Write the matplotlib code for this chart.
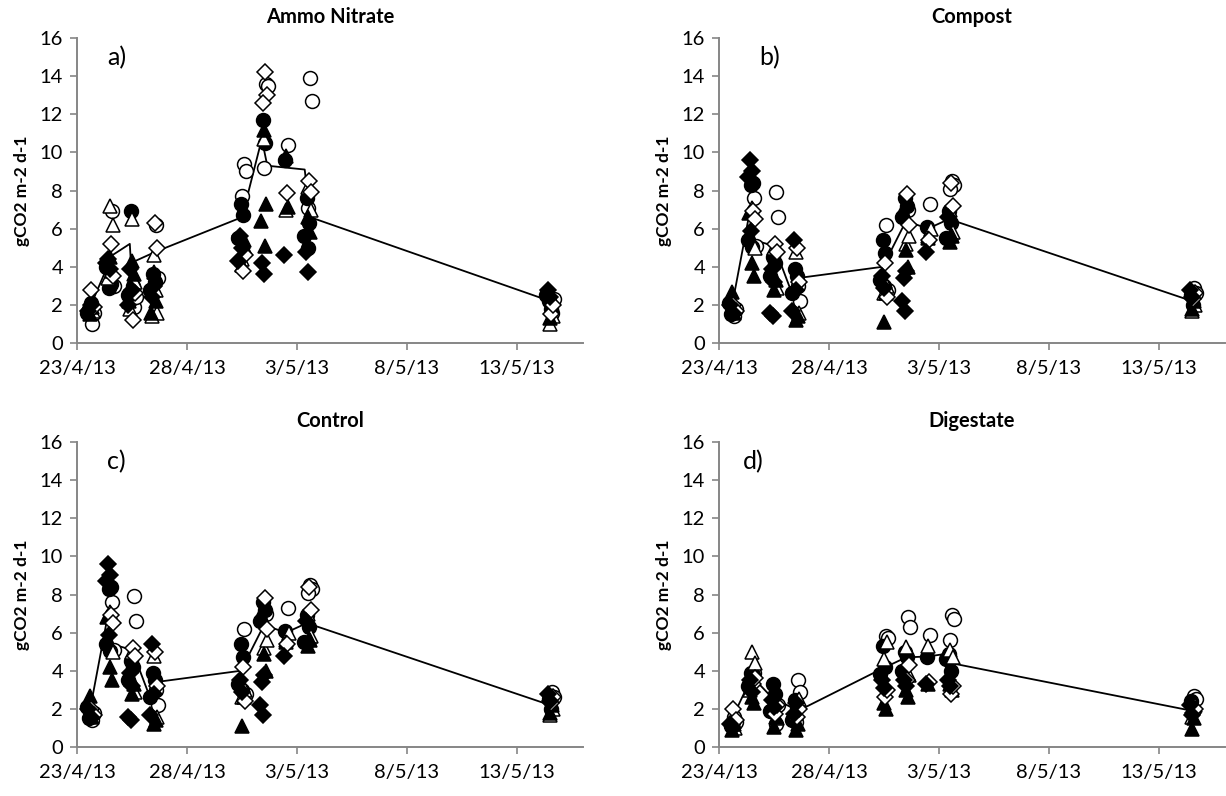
import matplotlib
matplotlib.use("Agg")
import matplotlib.pyplot as plt

plt.rcParams['font.family'] = ['Lato', 'DejaVu Sans']

# ---------------- data ----------------
date_ticks = [0, 5, 10, 15, 20]            # days since 23/4/13
date_labels = ["23/4/13", "28/4/13", "3/5/13", "8/5/13", "13/5/13"]
cluster_days = [0.6, 1.5, 2.5, 3.5, 7.5, 8.5, 9.5, 10.5, 21.5]
panel_titles = ["Ammo Nitrate", "Compost", "Control", "Digestate"]
panel_letters = ["a)", "b)", "c)", "d)"]
y_label = "gCO2 m-2 d-1"

# Ammo Nitrate: six chamber series, values per sampling cluster
ammo_open_circle = [[1.0, 1.6], [6.9, 3.0], [1.9, 2.4], [6.2, 3.4], [9.4, 9.0, 7.7],
                    [13.6, 13.5, 9.2], [10.4], [13.9, 12.7, 7.1], [1.6, 2.3]]
ammo_filled_circle = [[1.8, 2.1, 1.6], [2.9, 3.1, 4.0], [6.9, 3.0, 2.5], [3.6, 3.2, 2.8],
                      [7.3, 6.7, 5.5], [11.7, 10.5], [9.6], [7.6, 6.3, 5.6, 5.0], [2.2, 1.8, 2.5]]
ammo_open_triangle = [[2.2, 1.7], [7.2, 6.2, 3.4], [6.5, 3.2, 1.8], [4.6, 1.6, 1.4, 2.8],
                      [4.4, 5.0], [10.7], [7.0], [8.2, 7.0], [1.0, 1.4]]
ammo_filled_triangle = [[1.5, 1.9], [4.5, 3.8], [4.3, 3.6, 2.2], [3.7, 2.2, 1.6], [4.1, 5.4],
                        [11.2, 7.3, 6.4, 5.1], [9.8, 7.15], [6.6, 5.8], [1.3, 1.9]]
ammo_open_diamond = [[2.8, 1.9], [5.2, 3.5], [1.2, 2.6], [6.3, 5.0], [3.8, 4.6],
                     [14.2, 13.0, 12.6], [7.85], [8.5, 7.9], [1.5, 2.0]]
ammo_filled_diamond = [[1.7, 2.0], [4.4, 3.9, 4.2], [3.9, 2.8, 2.0], [2.4, 3.0],
                       [5.6, 5.0, 4.3], [4.2, 3.6], [4.6], [4.8, 3.75], [2.8, 2.4]]
ammo_mean_days = [0.6, 1.6, 2.4, 2.45, 3.6, 7.5, 8.4, 8.65, 10.35, 10.6, 21.5]
ammo_mean = [1.9, 4.6, 5.2, 4.2, 4.8, 6.6, 10.7, 9.3, 9.1, 6.6, 2.2]

# Compost
compost_open_circle = [[1.4, 1.8], [7.6, 5.1], [7.9, 6.6], [3.0, 2.2], [6.2, 2.8],
                       [7.0], [7.3], [8.5, 8.3, 8.1], [2.9, 2.6]]
compost_filled_circle = [[1.5, 1.8, 2.1], [8.3, 8.4, 5.4, 5.05], [4.5, 4.2, 3.5], [3.9, 3.5, 2.6],
                         [5.4, 4.7, 3.3, 3.0], [7.6, 7.2, 6.6], [6.1], [6.9, 6.3, 5.5], [2.5, 2.0]]
compost_open_triangle = [[2.2, 1.9], [7.1, 5.0], [5.0, 2.9], [4.8, 1.6], [2.6, 3.0],
                         [5.2, 5.6], [5.6, 6.0], [7.0, 5.8], [1.7, 2.0]]
compost_filled_triangle = [[2.7, 1.6], [4.2, 3.5, 6.8], [2.8, 3.3], [1.2, 1.4], [1.1, 2.6],
                           [4.9, 4.0, 7.0], [5.5], [5.3, 5.6], [1.8, 2.2]]
compost_open_diamond = [[2.0, 1.7], [6.9, 6.5], [5.2, 4.8], [5.0, 3.2], [4.2, 2.4],
                        [7.8, 6.2], [5.4], [8.4, 7.2], [2.3, 2.6]]
compost_filled_diamond = [[2.0, 1.6], [9.6, 9.0, 8.7, 5.9], [3.9, 3.2, 1.6, 1.4], [5.4, 2.8, 1.7],
                          [3.5, 2.9], [3.4, 3.8, 2.2, 1.7], [4.8], [6.6, 5.4], [2.8, 2.4]]
compost_mean_days = [0.6, 1.4, 1.55, 2.5, 3.45, 3.55, 7.45, 8.5, 9.5, 10.45, 21.5]
compost_mean = [2.0, 6.9, 5.4, 5.1, 2.2, 3.4, 4.0, 6.4, 6.0, 6.5, 2.2]

# Control (identical readings to the Compost panel in the source figure)
control_open_circle = [list(v) for v in compost_open_circle]
control_filled_circle = [list(v) for v in compost_filled_circle]
control_open_triangle = [list(v) for v in compost_open_triangle]
control_filled_triangle = [list(v) for v in compost_filled_triangle]
control_open_diamond = [list(v) for v in compost_open_diamond]
control_filled_diamond = [list(v) for v in compost_filled_diamond]
control_mean_days = list(compost_mean_days)
control_mean = list(compost_mean)

# Digestate
dig_open_circle = [[1.6, 1.3], [3.9], [1.2, 2.2], [3.5, 2.9, 1.3], [5.8, 5.7],
                   [6.8, 6.3], [5.85], [6.9, 6.7, 5.6], [2.7, 2.5]]
dig_filled_circle = [[1.1, 1.3], [3.9, 3.8, 3.2], [3.3, 2.8, 1.9], [2.45, 2.1, 1.4],
                     [5.3, 4.2, 3.85], [5.0, 4.7, 4.0], [4.7], [4.9, 4.0, 4.6], [2.4, 1.9]]
dig_open_triangle = [[1.4, 1.0], [5.0, 4.4, 3.0], [2.4, 1.5], [1.8, 2.5], [4.6, 5.5],
                     [5.25, 3.8], [5.3], [5.1, 4.7], [1.6, 2.2]]
dig_filled_triangle = [[0.9, 1.2], [2.6, 2.3], [1.05, 1.6], [0.9, 1.2], [2.3, 2.0],
                       [3.0, 2.6], [3.3], [3.3, 3.0], [0.95, 1.5]]
dig_open_diamond = [[2.0, 1.4], [3.3, 3.6], [1.75, 2.2], [1.6, 2.0], [2.6, 3.0],
                    [3.5, 4.3], [3.4], [2.8, 3.2], [1.8, 2.0]]
dig_filled_diamond = [[1.2, 1.0], [3.5, 2.9], [2.45, 2.1], [1.75, 2.3], [3.5, 3.1],
                      [3.5, 3.2], [3.3], [3.5, 3.2], [2.2, 1.7]]
dig_mean_days = [0.6, 1.5, 2.4, 3.6, 7.4, 8.5, 9.5, 10.4, 10.55, 21.5]
dig_mean = [1.5, 3.7, 2.6, 1.9, 4.1, 4.7, 4.75, 4.9, 4.4, 1.9]

panels = [
    ([ammo_open_circle, ammo_filled_circle, ammo_open_triangle, ammo_filled_triangle,
      ammo_open_diamond, ammo_filled_diamond], ammo_mean_days, ammo_mean),
    ([compost_open_circle, compost_filled_circle, compost_open_triangle, compost_filled_triangle,
      compost_open_diamond, compost_filled_diamond], compost_mean_days, compost_mean),
    ([control_open_circle, control_filled_circle, control_open_triangle, control_filled_triangle,
      control_open_diamond, control_filled_diamond], control_mean_days, control_mean),
    ([dig_open_circle, dig_filled_circle, dig_open_triangle, dig_filled_triangle,
      dig_open_diamond, dig_filled_diamond], dig_mean_days, dig_mean),
]

# ---------------- styling ----------------
series_style = [("o", "white", 10), ("o", "black", 10), ("^", "white", 10.5),
                ("^", "black", 10.5), ("D", "white", 8.5), ("D", "black", 8.5)]
series_shift = [0.08, -0.06, 0.02, -0.02, 0.05, -0.08]
point_shift = [0.0, 0.1, -0.1, 0.05]

axes_rects = [
    [77 / 1226, 1 - 343 / 796, 506 / 1226, 305 / 796],
    [719 / 1226, 1 - 343 / 796, 506 / 1226, 305 / 796],
    [77 / 1226, 1 - 747 / 796, 506 / 1226, 305 / 796],
    [719 / 1226, 1 - 747 / 796, 506 / 1226, 305 / 796],
]
letter_pos = [(0.06, 0.935), (0.08, 0.935), (0.06, 0.935), (0.048, 0.935)]
ylabel_x = [30, 672, 30, 672]

fig = plt.figure(figsize=(12.26, 7.96), dpi=100)
grey = "#868686"

for k, (series_list, mdays, mvals) in enumerate(panels):
    ax = fig.add_axes(axes_rects[k])
    ax.plot(mdays, mvals, color="black", lw=1.3, zorder=2)
    for s, vals in enumerate(series_list):
        marker, face, ms = series_style[s]
        for c, day in enumerate(cluster_days):
            for j, v in enumerate(vals[c]):
                x = day + series_shift[s] + point_shift[j % len(point_shift)]
                ax.plot([x], [v], linestyle="none", marker=marker, markersize=ms,
                        markerfacecolor=face, markeredgecolor="black",
                        markeredgewidth=1.1, zorder=3 + s * 0.1)
    ax.set_xlim(0, 23)
    ax.set_ylim(0, 16)
    ax.set_yticks(range(0, 17, 2))
    ax.set_xticks(date_ticks)
    ax.set_xticklabels(date_labels)
    for side in ("top", "right"):
        ax.spines[side].set_visible(False)
    for side in ("left", "bottom"):
        ax.spines[side].set_color(grey)
        ax.spines[side].set_linewidth(1.4)
    ax.tick_params(axis="both", direction="out", length=5, width=1.2, color=grey,
                   labelsize=14.5, labelcolor="black")
    ax.tick_params(axis="x", pad=7)
    ax.tick_params(axis="y", pad=5)
    ax.set_title(panel_titles[k], fontsize=14.5, fontweight="bold", pad=11)
    ax.text(letter_pos[k][0], letter_pos[k][1], panel_letters[k], transform=ax.transAxes,
            fontsize=18, ha="left", va="center")
    ax.set_ylabel(y_label, fontsize=12.5, fontweight="bold")
    ax.yaxis.set_label_coords((ylabel_x[k] - axes_rects[k][0] * 1226) / 506, 0.5)
    ax.set_facecolor("white")

fig.savefig("out.png", dpi=100, facecolor="white")
